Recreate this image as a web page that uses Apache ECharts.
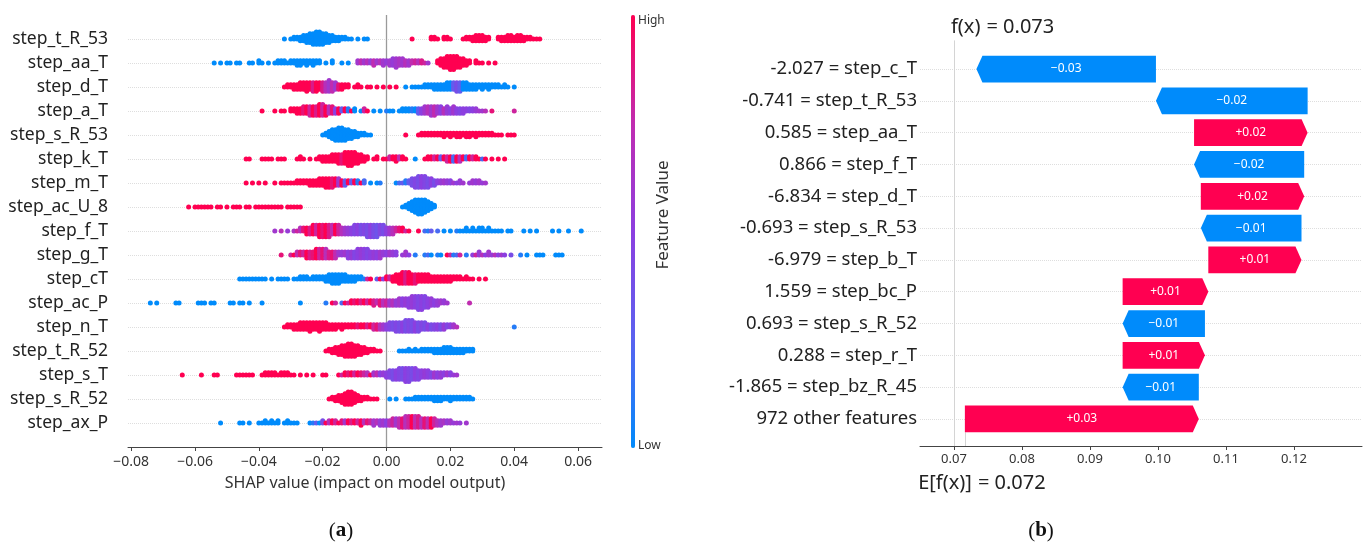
<!DOCTYPE html>
<html>
<head>
<meta charset="utf-8">
<script src="https://cdn.jsdelivr.net/npm/echarts@6/dist/echarts.min.js"></script>
<style>
  html, body { margin: 0; padding: 0; background: #fff; }
  #chart { width: 1370px; height: 544px; }
</style>
</head>
<body>
<div id="chart"></div>
<script>
// ---------- (a) SHAP summary (beeswarm) ----------
// Feature names, top to bottom.
const summaryFeatures = ['step_t_R_53', 'step_aa_T', 'step_d_T', 'step_a_T', 'step_s_R_53', 'step_k_T',
  'step_m_T', 'step_ac_U_8', 'step_f_T', 'step_g_T', 'step_cT', 'step_ac_P', 'step_n_T', 'step_t_R_52',
  'step_s_T', 'step_s_R_52', 'step_ax_P'];

// Each entry: [SHAP value in thousandths, number of samples, feature value (0 = low, 1 = high)]
const step_t_R_53 = [[-32,1,0],[-30,1,0],[-29,2,0],[-28,2,0],[-27,3,0],[-26,4,0],[-25,5,0],[-24,6,0],[-23,7,0],[-22,8,0],[-21,8,0],[-20,7,0],[-19,6,0],[-18,5,0],[-17,4,0],[-16,3,0],[-15,3,0],[-14,2,0],[-13,2,0],[-12,1,0],[-11,1,0],[-9,1,0],[-7,1,0],[-6,1,0],
  [8,1,1],[14,2,1],[15,2,1],[16,1,1],[18,2,1],[19,2,1],[20,1,1],[24,1,1],[25,2,1],[26,2,1],[27,3,1],[28,4,1],[29,4,1],[30,4,1],[31,3,1],[32,2,1],[35,2,1],[36,3,1],[37,3,1],[38,4,1],[39,4,1],[40,3,1],[41,4,1],[42,4,1],[43,3,1],[44,2,1],[45,2,1],[46,1,1],[47,1,1],[48,1,1]];
const step_aa_T = [[-54,1,0],[-52,1,0],[-50,1,0],[-49,1,0],[-47,1,0],[-46,1,0],[-43,1,0],[-42,1,0],[-40,2,0],[-39,1,0],[-37,1,0],[-35,1,0],[-34,2,0],[-33,2,0],[-32,2,0],[-31,1,0],[-30,2,0],[-29,2,0],[-28,3,0],[-27,3,0],[-26,2,0],[-25,3,0],[-24,2,0],[-23,3,0],[-22,2,0],[-21,2,0],[-19,1,0],[-17,2,0],[-14,1,0],[-12,1,0],
  [-9,2,0.6],[-8,2,0.75],[-7,2,0.6],[-6,2,0.7],[-5,2,0.55],[-4,3,0.75],[-3,2,0.6],[-2,2,0.7],[-1,3,0.6],[0,2,0.55],[1,3,0.6],[2,4,0.55],[3,5,0.6],[4,4,0.65],[5,4,0.6],[6,3,0.7],[7,3,0.6],[8,2,0.75],[9,2,0.8],[10,2,0.7],[11,2,0.85],[12,1,0.8],[13,1,0.6],
  [16,2,1],[17,4,1],[18,5,1],[19,6,1],[20,7,1],[21,7,1],[22,6,1],[23,5,1],[24,4,1],[25,3,1],[26,2,1],[28,2,1],[29,1,1],[30,1,1],[32,1,1],[34,1,1]];
const step_d_T = [[-32,1,1],[-31,2,1],[-30,2,1],[-29,3,1],[-28,3,1],[-27,4,1],[-26,4,1],[-25,5,1],[-24,4,1],[-23,5,0.85],[-22,5,1],[-21,4,1],[-20,5,0.85],[-19,5,0.7],[-18,6,0.6],[-17,5,0.75],[-16,4,0.6],[-15,3,0.9],[-14,3,1],[-13,2,1],[-12,2,1],[-10,1,1],[-9,2,1],[-8,1,1],[-6,1,1],[-5,1,1],[-3,1,1],[-1,1,1],[1,1,1],[3,1,1],
  [6,1,0],[8,1,0],[9,1,0],[10,1,0],[11,1,0],[12,2,0],[13,2,0],[14,2,0],[15,3,0],[16,3,0],[17,3,0],[18,3,0],[19,4,0],[20,4,0],[21,4,0.3],[22,5,0.4],[23,5,0.3],[24,4,0],[25,4,0],[26,3,0],[27,3,0],[28,3,0],[29,2,0],[30,3,0],[31,2,0],[32,3,0],[33,2,0],[34,2,0],[35,2,0],[36,1,0],[37,2,0],[38,1,0],[40,1,0]];
const step_a_T = [[-39,1,1],[-35,1,1],[-33,1,1],[-32,1,1],[-30,2,1],[-29,2,1],[-28,3,1],[-27,3,1],[-26,4,0.9],[-25,4,1],[-24,5,0.8],[-23,5,1],[-22,5,0.85],[-21,6,1],[-20,6,0.8],[-19,5,1],[-18,4,0.7],[-17,4,0.9],[-16,3,0.5],[-15,3,1],[-14,2,0.3],[-13,2,1],[-12,2,0.1],[-11,1,1],[-10,2,0],[-8,1,0],[-7,2,0.8],[-6,1,1],[-4,1,0],[-2,1,0],[0,1,0.1],[1,1,0],[2,1,0],[4,1,0],[5,2,0],[6,2,0],[7,2,0],[8,2,0.1],[9,2,0],
  [10,3,0.3],[11,3,0.5],[12,4,0.6],[13,4,0.7],[14,5,0.6],[15,5,0.75],[16,4,0.6],[17,4,0.5],[18,3,0.7],[19,4,0.55],[20,3,0.5],[21,4,0.6],[22,3,0.5],[23,3,0.45],[24,3,0.5],[25,2,0.5],[26,2,0.45],[27,2,0.5],[28,2,0.55],[29,1,0.6],[30,1,0.6],[31,1,0.7],[33,1,0.9],[40,1,0.8]];
const step_s_R_53 = [[-20,1,0],[-19,2,0],[-18,4,0],[-17,6,0],[-16,7,0],[-15,8,0],[-14,8,0],[-13,7,0],[-12,6,0],[-11,5,0],[-10,4,0],[-9,3,0],[-8,2,0],[-7,2,0],[-6,1,0],[-5,1,0],
  [6,1,1],[10,1,1],[11,2,1],[12,2,1],[13,2,1],[14,2,1],[15,2,1],[16,2,1],[17,2,1],[18,3,1],[19,2,1],[20,3,1],[21,2,1],[22,3,1],[23,3,1],[24,2,1],[25,3,1],[26,3,1],[27,2,1],[28,3,1],[29,2,1],[30,2,1],[31,2,1],[32,2,1],[33,2,1],[34,1,1],[35,1,1],[36,1,1],[38,1,1],[39,1,1],[40,1,1]];
const step_k_T = [[-44,1,1],[-43,1,1],[-39,1,1],[-38,1,1],[-37,1,1],[-36,1,1],[-34,1,1],[-33,1,1],[-32,1,1],[-28,1,1],[-27,2,1],[-26,1,1],[-24,1,1],[-22,1,1],[-21,2,1],[-20,3,1],[-19,3,1],[-18,3,1],[-17,4,1],[-16,4,1],[-15,5,1],[-14,5,0.9],[-13,6,1],[-12,7,1],[-11,7,1],[-10,6,1],[-9,5,1],[-8,4,1],[-7,3,1],[-6,2,1],[-4,1,1],[-3,2,1],[-1,1,1],[0,1,1],[1,2,0.8],[2,2,1],[3,3,1],[4,2,0.75],[5,2,1],[6,1,1],[9,1,0],
  [12,1,1],[13,2,1],[14,2,1],[15,2,0.8],[16,2,1],[17,2,0.3],[18,2,1],[19,3,0.8],[20,3,1],[21,3,0.2],[22,3,1],[23,3,0.7],[24,2,1],[25,2,0.2],[26,2,1],[27,2,0.8],[28,2,1],[29,1,1],[30,1,0.2],[31,1,1],[33,1,1],[35,1,1],[37,1,1]];
const step_m_T = [[-44,1,1],[-42,1,1],[-40,1,1],[-38,1,1],[-35,1,1],[-33,1,1],[-32,1,1],[-31,1,1],[-30,1,1],[-29,1,1],[-28,2,1],[-27,2,1],[-26,2,1],[-25,2,1],[-24,3,1],[-23,3,1],[-22,3,1],[-21,4,1],[-20,4,1],[-19,5,1],[-18,5,1],[-17,5,0.9],[-16,4,1],[-15,4,0.6],[-14,3,1],[-13,3,0.3],[-12,2,1],[-11,2,0.3],[-10,2,1],[-9,2,0.1],[-8,1,1],[-7,2,0.2],[-5,1,0],[-3,1,0],[-2,1,0.1],
  [3,1,0],[4,1,0.2],[5,1,0.3],[6,2,0.1],[7,2,0.3],[8,4,0.4],[9,5,0.45],[10,6,0.4],[11,6,0.5],[12,6,0.45],[13,5,0.4],[14,4,0.5],[15,3,0.4],[16,2,0.5],[17,2,0.55],[18,2,0.6],[19,2,0.55],[20,2,0.5],[21,1,0.6],[22,1,0.5],[23,2,0.55],[24,1,0.6],[26,1,0.55],[27,2,0.6],[28,2,0.55],[29,2,0.6],[30,1,0.55],[31,1,0.6]];
const step_ac_U_8 = [[-62,1,1],[-60,1,1],[-59,1,1],[-58,1,1],[-57,1,1],[-56,1,1],[-55,1,1],[-53,1,1],[-52,1,1],[-50,1,1],[-48,1,1],[-47,1,1],[-46,1,1],[-44,1,1],[-43,1,1],[-41,1,1],[-40,1,1],[-39,1,1],[-38,1,1],[-37,1,1],[-36,1,1],[-35,1,1],[-34,1,1],[-33,1,1],[-31,1,1],[-30,1,1],[-29,1,1],[-28,1,1],[-27,1,1],
  [5,1,0],[6,2,0],[7,4,0],[8,6,0],[9,8,0],[10,9,0],[11,9,0],[12,8,0],[13,6,0],[14,4,0],[15,2,0]];
const step_f_T = [[-35,1,0.6],[-33,1,0.7],[-31,1,0.55],[-29,1,0.65],[-28,1,0.8],[-27,2,0.7],[-26,2,0.9],[-25,3,1],[-24,3,0.85],[-23,4,1],[-22,4,0.8],[-21,5,1],[-20,5,0.9],[-19,5,1],[-18,5,0.85],[-17,4,0.75],[-16,4,1],[-15,4,0.8],[-14,3,0.7],[-13,3,0.6],[-12,3,0.55],[-11,3,0.5],[-10,4,0.45],[-9,4,0.5],[-8,4,0.4],[-7,4,0.45],[-6,5,0.4],[-5,5,0.5],[-4,5,0.4],[-3,5,0.35],[-2,4,0.45],[-1,4,0.4],[0,3,0.5],[1,3,0.6],[2,3,0.7],[3,2,0.8],[4,2,0.9],[5,2,1],[6,1,0.8],[7,1,1],[10,1,1],
  [12,1,0.2],[13,1,0.1],[14,1,0.3],[16,1,0.2],[18,1,0],[20,1,0],[22,1,0.1],[23,1,0],[24,1,0],[25,2,0],[26,1,0],[27,2,0],[28,1,0],[29,2,0],[30,2,0],[31,1,0],[32,2,0],[33,1,0],[34,1,0],[35,1,0],[36,1,0],[38,1,0],[39,1,0],[43,1,0],[45,1,0],[47,1,0],[52,1,0],[54,1,0],[57,1,0],[61,1,0]];
const step_g_T = [[-33,1,0.9],[-30,1,0.8],[-29,1,1],[-28,2,0.75],[-27,2,0.9],[-26,2,0.8],[-25,3,1],[-24,3,0.85],[-23,3,0.9],[-22,4,1],[-21,4,0.8],[-20,4,0.9],[-19,4,0.7],[-18,3,0.85],[-17,3,0.9],[-16,3,0.75],[-15,2,0.6],[-14,2,0.55],[-13,2,0.6],[-12,3,0.5],[-11,3,0.55],[-10,3,0.45],[-9,4,0.5],[-8,4,0.55],[-7,4,0.5],[-6,4,0.45],[-5,3,0.5],[-4,3,0.55],[-3,3,0.5],[-2,3,0.6],[-1,2,0.55],[0,2,0.5],[1,2,0.6],[2,2,0.55],[3,2,0.5],[5,1,0.55],[6,2,0.6],[7,1,0.5],
  [9,1,0.1],[12,1,0.1],[13,1,0.2],[14,1,0],[16,1,0.1],[17,1,0],[19,1,1],[20,1,0.8],[21,1,0.1],[22,1,0.2],[23,1,0.8],[25,1,0.1],[27,1,0.5],[28,1,0.8],[29,2,0.55],[30,1,0.7],[31,1,0.5],[32,2,0.6],[33,1,0.55],[34,1,0.7],[35,1,0.5],[36,1,0.6],[37,1,0.5],[39,1,0.4],[42,1,0.1],[44,1,0],[47,1,0],[48,1,0],[49,1,0],[53,1,0],[54,1,0],[55,1,0]];
const step_cT = [[-46,1,0],[-45,1,0],[-44,1,0],[-43,1,0],[-42,1,0],[-41,1,0],[-40,1,0],[-39,1,0],[-38,1,0],[-36,1,0],[-34,1,0],[-33,1,0],[-32,1,0],[-31,1,0],[-29,1,0],[-28,1,0],[-27,2,0],[-26,2,0],[-25,2,0],[-24,1,0],[-23,2,0],[-22,2,0],[-21,2,0],[-20,2,0],[-19,3,0],[-18,4,0],[-17,5,0],[-16,5,0],[-15,5,0],[-14,4,0],[-13,4,0],[-12,3,0],[-11,3,0],[-10,3,0],[-9,2,0],[-8,2,0],[-7,1,0.1],[-6,1,0.8],[-5,1,1],[-3,1,0.3],[-2,1,1],[-1,1,0.5],
  [0,2,1],[1,2,0.8],[2,3,1],[3,4,1],[4,5,1],[5,6,1],[6,6,0.85],[7,6,1],[8,5,1],[9,5,0.9],[10,4,1],[11,4,1],[12,4,1],[13,4,1],[14,3,1],[15,3,1],[16,3,1],[17,3,1],[18,3,1],[19,3,1],[20,3,1],[21,2,1],[22,2,1],[23,2,1],[24,1,1],[25,2,1],[26,1,1],[27,1,1],[29,1,1],[31,1,1]];
const step_ac_P = [[-74,1,0],[-72,1,0],[-66,1,0],[-65,1,0],[-59,1,0],[-58,1,0],[-57,1,0],[-55,1,0],[-54,1,0],[-49,1,0],[-48,1,0],[-46,1,0],[-45,1,0],[-43,1,0],[-39,1,0],[-27,1,0],[-19,1,0.1],[-17,1,1],[-16,1,0.8],[-14,1,0.2],[-13,1,1],[-12,1,0.8],[-11,2,1],[-10,2,0.9],[-9,2,1],[-8,2,0.85],[-7,2,1],[-6,2,0.8],[-5,2,1],[-4,3,0.85],[-3,2,0.75],[-2,3,0.9],[-1,3,0.7],
  [0,3,0.8],[1,3,0.6],[2,3,0.7],[3,3,0.55],[4,4,0.6],[5,4,0.5],[6,4,0.55],[7,5,0.5],[8,6,0.55],[9,6,0.5],[10,7,0.45],[11,7,0.5],[12,6,0.45],[13,5,0.5],[14,4,0.55],[15,3,0.5],[16,3,0.55],[17,2,0.6],[18,2,0.55],[19,1,0.6],[26,1,0.75]];
const step_n_T = [[-32,1,1],[-31,2,1],[-30,2,1],[-29,3,1],[-28,3,1],[-27,4,1],[-26,4,1],[-25,4,1],[-24,5,1],[-23,4,1],[-22,4,1],[-21,5,1],[-20,4,1],[-19,4,1],[-18,3,1],[-17,3,1],[-16,3,1],[-15,2,1],[-14,3,1],[-13,2,1],[-12,2,1],[-11,2,1],[-10,2,1],[-9,2,0.9],[-8,2,1],[-7,2,1],[-6,2,0.85],[-5,2,1],[-4,3,0.8],[-3,3,0.9],[-2,3,0.7],[-1,3,0.6],
  [0,3,0.5],[1,4,0.45],[2,4,0.4],[3,5,0.45],[4,5,0.4],[5,5,0.5],[6,6,0.4],[7,6,0.45],[8,6,0.4],[9,5,0.5],[10,5,0.4],[11,4,0.45],[12,4,0.4],[13,3,0.5],[14,3,0.4],[15,3,0.45],[16,3,0.5],[17,3,0.4],[18,3,0.55],[19,2,0.45],[20,2,0.5],[21,2,0.6],[22,1,0.7],[40,1,0.1]];
const step_t_R_52 = [[-19,1,1],[-18,2,1],[-17,3,1],[-16,4,1],[-15,5,1],[-14,6,1],[-13,7,1],[-12,8,1],[-11,8,1],[-10,7,1],[-9,6,1],[-8,5,1],[-7,4,1],[-6,3,1],[-5,2,1],[-4,2,1],[-3,1,1],[-2,1,1],
  [4,1,0],[5,1,0],[6,1,0],[7,2,0],[8,1,0],[9,2,0],[10,1,0],[11,2,0],[12,2,0],[13,2,0],[14,2,0],[15,3,0],[16,3,0],[17,3,0],[18,4,0],[19,4,0],[20,4,0],[21,3,0],[22,3,0],[23,3,0],[24,3,0],[25,2,0],[26,2,0],[27,2,0]];
const step_s_T = [[-64,1,1],[-58,1,1],[-54,1,1],[-53,1,1],[-47,1,1],[-46,1,1],[-45,1,1],[-44,1,1],[-43,1,1],[-42,1,1],[-39,1,1],[-38,2,1],[-37,2,1],[-36,2,1],[-35,2,1],[-34,1,1],[-33,2,1],[-32,2,1],[-31,2,1],[-30,1,1],[-29,1,1],[-27,1,1],[-25,1,1],[-23,1,1],[-20,1,1],[-19,1,1],[-15,1,1],[-14,1,0.8],[-13,2,1],[-12,2,0.9],[-11,2,1],[-10,2,0.8],[-9,2,1],[-8,2,0.9],[-7,2,0.8],[-6,2,0.7],[-5,1,1],[-4,2,0.6],[-3,2,0.75],[-2,2,0.5],[-1,2,0.55],
  [0,3,0.5],[1,4,0.45],[2,5,0.4],[3,5,0.5],[4,6,0.45],[5,6,0.4],[6,7,0.5],[7,7,0.45],[8,6,0.4],[9,6,0.5],[10,5,0.45],[11,4,0.5],[12,4,0.55],[13,4,0.5],[14,3,0.45],[15,3,0.6],[16,3,0.5],[17,3,0.55],[18,2,0.5],[19,2,0.6],[20,2,0.5],[21,1,0.55],[22,1,0.6]];
const step_s_R_52 = [[-18,1,1],[-17,2,1],[-16,3,1],[-15,4,1],[-14,5,1],[-13,7,1],[-12,8,1],[-11,8,1],[-10,6,1],[-9,4,1],[-8,3,1],[-7,2,1],[-6,2,1],[-5,1,1],[-4,1,1],[-3,1,1],
  [1,1,0],[3,1,0],[6,1,0],[7,1,0],[8,1,0],[9,2,0],[10,2,0],[11,2,0],[12,2,0],[13,2,0],[14,2,0],[15,3,0],[16,3,0],[17,3,0],[18,2,0],[19,2,0],[20,3,0],[21,2,0],[22,2,0],[23,2,0],[24,2,0],[25,2,0],[26,2,0],[27,1,0]];
const step_ax_P = [[-52,1,0],[-46,1,0],[-45,1,0],[-43,1,0],[-40,1,0],[-39,1,0],[-38,2,0],[-37,1,0],[-36,2,0],[-35,1,0],[-34,2,0],[-32,1,0],[-31,2,0],[-30,1,0],[-29,1,0],[-28,1,0],[-24,1,0],[-23,1,0.1],[-22,1,0.3],[-21,1,0],[-20,2,0.4],[-19,1,1],[-18,2,0.7],[-17,2,1],[-16,2,0.8],[-15,1,1],[-14,2,0.9],[-13,2,0.6],[-12,2,1],[-11,2,0.85],[-10,2,1],[-9,2,0.8],[-8,3,1],[-7,2,0.7],[-6,2,0.9],[-5,2,0.8],[-4,3,0.6],[-3,2,0.7],[-2,3,0.55],[-1,3,0.6],
  [0,3,0.5],[1,3,0.7],[2,4,0.8],[3,4,0.6],[4,5,0.75],[5,5,0.9],[6,6,0.7],[7,6,0.8],[8,6,1],[9,6,0.75],[10,6,0.85],[11,5,0.7],[12,5,0.9],[13,5,0.75],[14,5,1],[15,4,0.8],[16,3,0.7],[17,3,0.6],[18,2,0.65],[19,2,0.55],[20,2,0.6],[21,1,0.55],[22,1,0.6],[23,1,0.55],[25,1,0.6]];

const summaryRows = [step_t_R_53, step_aa_T, step_d_T, step_a_T, step_s_R_53, step_k_T, step_m_T, step_ac_U_8,
  step_f_T, step_g_T, step_cT, step_ac_P, step_n_T, step_t_R_52, step_s_T, step_s_R_52, step_ax_P];
const summaryTicks = [-0.08, -0.06, -0.04, -0.02, 0.00, 0.02, 0.04, 0.06];

// ---------- (b) waterfall for one prediction ----------
const wfFeatures = ['step_c_T', 'step_t_R_53', 'step_aa_T', 'step_f_T', 'step_d_T', 'step_s_R_53',
  'step_b_T', 'step_bc_P', 'step_s_R_52', 'step_r_T', 'step_bz_R_45', '972 other features'];
const wfInputs = ['-2.027', '-0.741', '0.585', '0.866', '-6.834', '-0.693', '-6.979', '1.559', '0.693', '0.288', '-1.865', ''];
const wfShap = [-0.0264, -0.0223, 0.0167, -0.0162, 0.0152, -0.0148, 0.0137, 0.0126, -0.0121, 0.0121, -0.0112, 0.0344];
const baseValue = 0.0716;
const wfTicks = [0.07, 0.08, 0.09, 0.10, 0.11, 0.12];

// ---------- beeswarm layout (same binning idea as shap) ----------
const NROWS = summaryFeatures.length;
function swarm(entries, rowPos) {
  const pts = [];
  entries.forEach(([v, n, c]) => { for (let k = 0; k < n; k++) pts.push([v / 1000, c]); });
  const xs = pts.map(p => p[0]);
  const lo = Math.min(...xs), hi = Math.max(...xs);
  const nbins = 100;
  const q = pts.map(p => Math.round(nbins * (p[0] - lo) / (hi - lo + 1e-8)));
  const order = pts.map((p, i) => i).sort((a, b) => (q[a] - q[b]) || (a - b));
  const ys = new Array(pts.length).fill(0);
  let layer = 0, last = -1;
  order.forEach(i => {
    if (q[i] !== last) layer = 0;
    ys[i] = Math.ceil(layer / 2) * ((layer % 2) * 2 - 1);
    layer++;
    last = q[i];
  });
  const m = Math.max(...ys.map(y => y + 1));
  return pts.map((p, i) => [p[0], rowPos + ys[i] * 0.9 * 0.4 / m, p[1]]);
}
const swarmData = [];
summaryRows.forEach((rows, i) => swarmData.push(...swarm(rows, NROWS - 1 - i)));

// ---------- waterfall segments (built bottom-up from the base value) ----------
const NW = wfFeatures.length;
const wfData = [];
let running = baseValue;
for (let i = NW - 1; i >= 0; i--) {
  const start = running;
  running += wfShap[i];
  wfData.push([start, running, NW - 1 - i, wfShap[i]]);
}
const fxValue = running;
const wfLabels = wfFeatures.map((f, i) => wfInputs[i] ? wfInputs[i] + ' = ' + f : f);

const BLUE = '#008bfb', RED = '#ff0051';
const TXT = '#333';
const FONT = '"Noto Sans", "Open Sans", sans-serif';
const fmtMinus = s => s.replace('-', '\u2212');

const chart = echarts.init(document.getElementById('chart'), null, { renderer: 'canvas' });

const rowLines = [];
for (let r = 0; r < NROWS; r++) rowLines.push({ yAxis: r });
const wfRowLines = [];
for (let r = 0; r < NW; r++) wfRowLines.push({ yAxis: r });

chart.setOption({
  animation: false,
  backgroundColor: '#fff',
  grid: [
    { left: 128, top: 15, width: 474, height: 432 },
    { left: 920, top: 40.4, width: 442, height: 405.6 }
  ],
  xAxis: [
    {
      gridIndex: 0, type: 'value', min: -0.081, max: 0.0675,
      axisLine: { show: true, onZero: false, lineStyle: { color: '#444', width: 1 } },
      axisTick: { show: true, customValues: summaryTicks, length: 4, lineStyle: { color: '#444' } },
      axisLabel: { customValues: summaryTicks, margin: 8, color: TXT, fontSize: 14, fontFamily: FONT,
        formatter: v => fmtMinus(v.toFixed(2)) },
      splitLine: { show: false },
      name: 'SHAP value (impact on model output)', nameLocation: 'middle', nameGap: 28,
      nameTextStyle: { color: TXT, fontSize: 16, fontFamily: FONT }
    },
    {
      gridIndex: 1, type: 'value', min: 0.065, max: 0.13,
      axisLine: { show: true, onZero: false, lineStyle: { color: '#444', width: 1 } },
      axisTick: { show: true, customValues: wfTicks, length: 4, lineStyle: { color: '#444' } },
      axisLabel: { customValues: wfTicks, margin: 7, color: TXT, fontSize: 13, fontFamily: FONT,
        formatter: v => v.toFixed(2) },
      splitLine: { show: false }
    }
  ],
  yAxis: [
    {
      gridIndex: 0, type: 'value', min: -1, max: NROWS,
      axisLine: { show: false }, axisTick: { show: false }, splitLine: { show: false },
      axisLabel: { customValues: summaryFeatures.map((f, i) => i), margin: 20, color: '#222', fontSize: 17.5,
        fontFamily: FONT, formatter: v => summaryFeatures[NROWS - 1 - Math.round(v)] }
    },
    {
      gridIndex: 1, type: 'value', min: -0.85, max: NW - 0.1,
      axisLine: { show: false }, axisTick: { show: false }, splitLine: { show: false },
      axisLabel: { customValues: wfFeatures.map((f, i) => i), margin: 3, color: '#222', fontSize: 18.5,
        fontFamily: FONT, formatter: v => wfLabels[NW - 1 - Math.round(v)] }
    }
  ],
  visualMap: {
    type: 'continuous', seriesIndex: 0, dimension: 2, min: 0, max: 1,
    orient: 'vertical', left: 631, top: 15, itemWidth: 4, itemHeight: 433,
    padding: 0, calculable: false, text: null, showLabel: false,
    inRange: { color: [BLUE, '#5a62f0', '#8c3fe0', '#c02cb0', RED] }
  },
  series: [
    {
      type: 'scatter', xAxisIndex: 0, yAxisIndex: 0, z: 3,
      symbolSize: 5, data: swarmData, silent: true,
      itemStyle: { opacity: 1 }
    },
    {
      type: 'line', xAxisIndex: 0, yAxisIndex: 0, z: 1, data: [], silent: true,
      markLine: {
        z: 1, silent: true, symbol: ['none', 'none'], label: { show: false },
        lineStyle: { color: '#dedede', type: 'dotted', width: 1 },
        data: rowLines.concat([{ xAxis: 0, lineStyle: { color: '#9a9a9a', type: 'solid', width: 1.3 } }])
      }
    },
    {
      type: 'custom', xAxisIndex: 1, yAxisIndex: 1, z: 3, silent: true,
      data: wfData,
      renderItem: (params, api) => {
        const s = api.value(0), e = api.value(1), row = api.value(2), v = api.value(3);
        const p0 = api.coord([s, row]), p1 = api.coord([e, row]);
        const h = api.size([0, 1])[1] * 0.42;
        const dir = e >= s ? 1 : -1;
        const len = Math.abs(p1[0] - p0[0]);
        const head = Math.min(6, len);
        const xb = p1[0] - dir * head;
        const y = p0[1];
        const color = v >= 0 ? RED : BLUE;
        const txt = (v >= 0 ? '+' : '\u2212') + Math.abs(v).toFixed(2);
        return {
          type: 'group',
          children: [
            { type: 'polygon', shape: { points: [[p0[0], y - h], [xb, y - h], [p1[0], y], [xb, y + h], [p0[0], y + h]] },
              style: { fill: color } },
            { type: 'text', x: (p0[0] + p1[0]) / 2, y: y,
              style: { text: txt, fill: '#fff', font: '12px ' + FONT, textAlign: 'center', textVerticalAlign: 'middle' } }
          ]
        };
      }
    },
    {
      type: 'line', xAxisIndex: 1, yAxisIndex: 1, z: 1, data: [], silent: true,
      markLine: {
        z: 1, silent: true, symbol: ['none', 'none'], label: { show: false },
        lineStyle: { color: '#dedede', type: 'dotted', width: 1 },
        data: wfRowLines.concat([
          { xAxis: fxValue, lineStyle: { color: '#d4d4d4', type: 'solid', width: 1 } },
          [{ coord: [baseValue, -0.85], lineStyle: { color: '#d4d4d4', type: 'solid', width: 1 } }, { coord: [baseValue, -0.42] }]
        ])
      }
    }
  ]
});

// Text placed from the data: f(x) above the plot, E[f(x)] under the axis.
const fxPx = chart.convertToPixel({ xAxisIndex: 1 }, fxValue);
const basePx = chart.convertToPixel({ xAxisIndex: 1 }, baseValue);
const big = '20px ' + FONT;
chart.setOption({
  graphic: [
    { type: 'text', style: { text: 'f(x)', x: fxPx + 4, y: 27, font: big, fill: '#222', textAlign: 'right', textVerticalAlign: 'middle' } },
    { type: 'text', style: { text: '= ' + fxValue.toFixed(3), x: fxPx + 10, y: 27, font: big, fill: '#222', textAlign: 'left', textVerticalAlign: 'middle' } },
    { type: 'text', style: { text: 'E[f(x)]', x: basePx + 7, y: 483, font: big, fill: '#222', textAlign: 'right', textVerticalAlign: 'middle' } },
    { type: 'text', style: { text: '= ' + baseValue.toFixed(3), x: basePx + 13, y: 483, font: big, fill: '#222', textAlign: 'left', textVerticalAlign: 'middle' } },
    { type: 'text', style: { text: 'High', x: 638, y: 21, font: '12px ' + FONT, fill: TXT, textAlign: 'left', textVerticalAlign: 'middle' } },
    { type: 'text', style: { text: 'Low', x: 638, y: 446, font: '12px ' + FONT, fill: TXT, textAlign: 'left', textVerticalAlign: 'middle' } },
    { type: 'text', x: 663, y: 215, rotation: Math.PI / 2,
      style: { text: 'Feature Value', x: 0, y: 0, font: '17px ' + FONT, fill: TXT, textAlign: 'center', textVerticalAlign: 'middle' } },
    { type: 'text', style: { text: '({b|a})', x: 341, y: 531, font: '21px "Liberation Serif", serif', fill: '#111',
      textAlign: 'center', textVerticalAlign: 'middle',
      rich: { b: { fontWeight: 'bold', fontSize: 21, fontFamily: '"Liberation Serif", serif', fill: '#111' } } } },
    { type: 'text', style: { text: '({b|b})', x: 1041, y: 531, font: '21px "Liberation Serif", serif', fill: '#111',
      textAlign: 'center', textVerticalAlign: 'middle',
      rich: { b: { fontWeight: 'bold', fontSize: 21, fontFamily: '"Liberation Serif", serif', fill: '#111' } } } }
  ]
});
</script>
</body>
</html>
